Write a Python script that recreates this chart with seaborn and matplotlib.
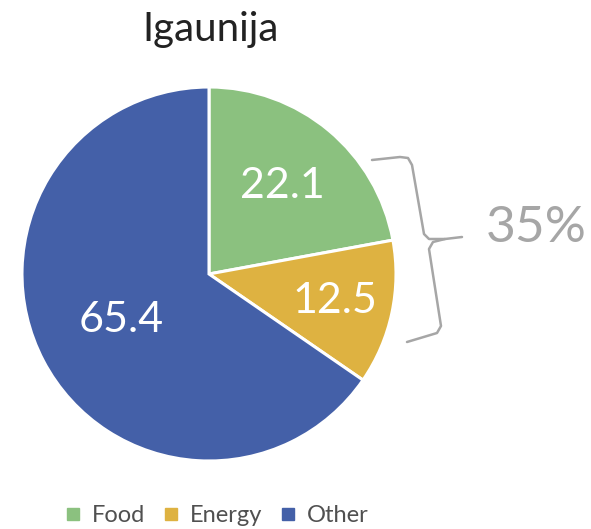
import numpy as np
import matplotlib
matplotlib.use("Agg")
import matplotlib.pyplot as plt
import seaborn as sns
from matplotlib.lines import Line2D

title = "Igaunija"
categories = ["Food", "Energy", "Other"]
values = [22.1, 12.5, 65.4]
value_labels = ["22.1", "12.5", "65.4"]
bracket_label = "35%"

sns.set_theme(style="white")
plt.rcParams["font.family"] = ["Lato", "DejaVu Sans"]

colors = ["#8BC17F", "#DEB241", "#4460A8"]
label_dist = [0.61, 0.69, 0.53]

W, H = 591, 529
fig = plt.figure(figsize=(W / 100, H / 100), dpi=100)
ax = fig.add_axes([0, 0, 1, 1])
cx, cy, R = 209, H - 274, 187

wedges, _ = ax.pie(values, colors=colors, startangle=90, counterclock=False,
                   center=(cx, cy), radius=R,
                   wedgeprops=dict(edgecolor="white", linewidth=2.2))
for w, lab, d in zip(wedges, value_labels, label_dist):
    mid = np.deg2rad((w.theta1 + w.theta2) / 2)
    ax.text(cx + d * R * np.cos(mid), cy + d * R * np.sin(mid), lab,
            color="white", fontsize=31, ha="center", va="center")

ax.set_xlim(0, W)
ax.set_ylim(0, H)
ax.set_aspect("auto")
ax.axis("off")

# bracket
gray = "#A6A6A6"
up = [(372, 160), (400, 157), (408, 158), (412, 165), (424, 234), (429, 239), (445, 239), (462, 237)]
lo = [(445, 239), (433, 242), (429, 249), (441, 326), (437, 333), (407, 342)]
for seg in (up, lo):
    xs = [p[0] for p in seg]
    ys = [H - p[1] for p in seg]
    ax.plot(xs, ys, color=gray, lw=1.8, solid_capstyle="round", solid_joinstyle="round")
ax.text(536, H - 228, bracket_label, color=gray, fontsize=37, ha="center", va="center")

ax.text(211, H - 30, title, color="#222222", fontsize=29, ha="center", va="center")

handles = [Line2D([], [], marker="s", linestyle="none", markersize=9,
                  markerfacecolor=c, markeredgecolor=c) for c in colors]
fig.legend(handles, categories, loc="center", bbox_to_anchor=(215 / W, 1 - 516 / H),
           ncol=3, frameon=False, fontsize=17, handletextpad=0.3, columnspacing=0.6,
           handlelength=1.0, labelcolor="#505050", borderaxespad=0)

fig.savefig("out.png", dpi=100)
